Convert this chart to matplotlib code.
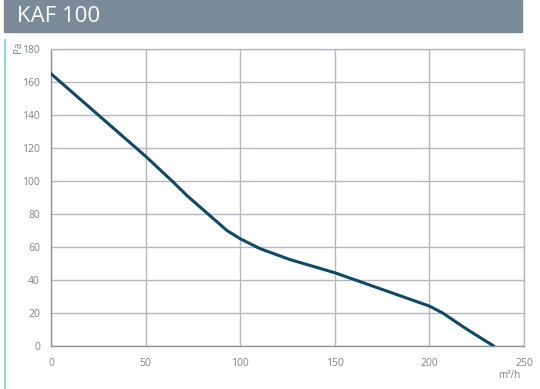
import matplotlib
matplotlib.use('Agg')
from matplotlib import pyplot as plt
from matplotlib.patches import Rectangle
from matplotlib.lines import Line2D

# curve
airflow = [0, 25, 50, 64, 72, 84, 93, 100, 110.5, 126, 150, 175, 200, 207, 220, 234]
pressure = [165, 140, 115, 100, 91, 79, 70, 65, 59, 52.5, 44.4, 34.3, 24.2, 20, 10, 0]

x_ticks = [0, 50, 100, 150, 200, 250]
y_ticks = [0, 20, 40, 60, 80, 100, 120, 140, 160, 180]
title = 'KAF 100'

grid_c = '#b3b8c0'
text_c = '#7d828a'
curve_c = '#0e4a66'

fig = plt.figure(figsize=(5.4, 3.89), dpi=100)
ax = fig.add_axes([51 / 540, 1 - 346 / 389, 473 / 540, 297 / 389])

ax.plot(airflow, pressure, color=curve_c, lw=2.2, solid_capstyle='round',
        solid_joinstyle='round', zorder=3)

ax.set_xlim(0, 250)
ax.set_ylim(0, 180)
ax.set_xticks(x_ticks)
ax.set_yticks(y_ticks)
ax.grid(True, color=grid_c, lw=1)
for s in ax.spines.values():
    s.set_color(grid_c)
    s.set_linewidth(1)
ax.spines['bottom'].set_color('#8e939b')
ax.spines['left'].set_color('#8e939b')
ax.tick_params(length=0, labelsize=7.5, labelcolor=text_c)
ax.tick_params(axis='x', pad=9)
ax.tick_params(axis='y', pad=8)
for lab in ax.get_xticklabels() + ax.get_yticklabels():
    lab.set_family('Open Sans')

# axis units
fig.text(18 / 540, 1 - 47 / 389, 'Pa', rotation=90, ha='center', va='center',
         fontsize=7, color=text_c, family='Open Sans')
fig.text(509 / 540, 1 - 375 / 389, 'm³/h', ha='center', va='center',
         fontsize=7, color=text_c, family='Open Sans')

# header bar
fig.patches.append(Rectangle((4 / 540, 1 - 32 / 389), 518 / 540, 32 / 389,
                             transform=fig.transFigure, color='#7b8a98', zorder=0))
fig.text(17 / 540, 1 - 17 / 389, title, ha='left', va='center', fontsize=16,
         color='white', family='Open Sans')

# thin teal marker on the left
fig.lines.append(Line2D([4.5 / 540, 4.5 / 540], [0, 1 - 40 / 389],
                        transform=fig.transFigure, color='#7ccfd3', lw=1.2))

fig.savefig('out.png', dpi=100)
